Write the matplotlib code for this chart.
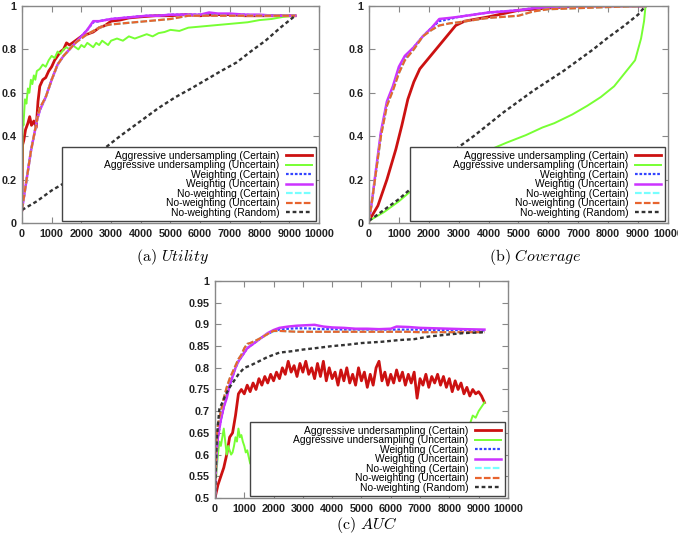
import matplotlib
matplotlib.use('Agg')
import matplotlib.pyplot as plt
from matplotlib.patches import Rectangle

plt.rcParams['font.family'] = ['Liberation Sans', 'DejaVu Sans']
plt.rcParams['mathtext.fontset'] = 'cm'

# Legend labels (same order in every panel)
labels = ['Aggressive undersampling (Certain)',
          'Aggressive undersampling (Uncertain)',
          'Weighting (Certain)',
          'Weightig (Uncertain)',
          'No-weighting (Certain)',
          'No-weighting (Uncertain)',
          'No-weighting (Random)']

x_ticks = [0, 1000, 2000, 3000, 4000, 5000, 6000, 7000, 8000, 9000, 10000]

###########
# Utility #
###########
util_agg_cert_x = [0, 20, 60, 120, 200, 260, 320, 400, 480, 540, 600, 700, 800,
                   900, 1000, 1100, 1200, 1300, 1400, 1500, 1600, 1800, 2000,
                   2200, 2400, 2600, 2800, 3000, 3300, 3600, 4000, 4500, 5000,
                   5500, 6000, 6500, 7000, 7500, 8000, 8500, 9200]
util_agg_cert_y = [0.06, 0.36, 0.38, 0.43, 0.46, 0.49, 0.45, 0.47, 0.44, 0.56,
                   0.63, 0.66, 0.67, 0.70, 0.72, 0.75, 0.77, 0.79, 0.80, 0.83,
                   0.82, 0.84, 0.86, 0.87, 0.88, 0.90, 0.91, 0.93, 0.935, 0.945,
                   0.95, 0.955, 0.955, 0.96, 0.955, 0.96, 0.96, 0.955, 0.955,
                   0.955, 0.955]

util_agg_unc_x = [0, 20, 50, 100, 150, 200, 250, 300, 350, 400, 450, 500, 600,
                  700, 800, 900, 1000, 1100, 1200, 1300, 1400, 1500, 1600, 1700,
                  1800, 1900, 2000, 2100, 2200, 2300, 2400, 2500, 2600, 2700,
                  2800, 2900, 3000, 3200, 3400, 3600, 3800, 4000, 4200, 4400,
                  4600, 4800, 5000, 5300, 5600, 6000, 6400, 6800, 7200, 7600,
                  8000, 8400, 8800, 9200]
util_agg_unc_y = [0.06, 0.48, 0.45, 0.57, 0.55, 0.62, 0.60, 0.66, 0.64, 0.68,
                  0.66, 0.70, 0.71, 0.73, 0.72, 0.75, 0.77, 0.76, 0.79, 0.78,
                  0.80, 0.81, 0.80, 0.82, 0.81, 0.80, 0.82, 0.81, 0.83, 0.82,
                  0.81, 0.83, 0.82, 0.84, 0.83, 0.82, 0.84, 0.85, 0.84, 0.86,
                  0.85, 0.86, 0.87, 0.86, 0.875, 0.88, 0.89, 0.885, 0.90, 0.905,
                  0.91, 0.915, 0.92, 0.925, 0.935, 0.94, 0.95, 0.955]

util_w_x = [0, 100, 200, 300, 400, 500, 600, 800, 1000, 1200, 1400, 1600,
            1800, 2000, 2200, 2400, 2600, 2800, 3000, 3400, 3800, 4200, 4600,
            5000, 5600, 6000, 6300, 6600, 7000, 7500, 8000, 8500, 9200]
util_w_cert_y = [0.06, 0.15, 0.24, 0.33, 0.40, 0.47, 0.52, 0.58, 0.66, 0.73,
                 0.77, 0.80, 0.83, 0.86, 0.89, 0.925, 0.93, 0.935, 0.94, 0.945,
                 0.95, 0.955, 0.955, 0.96, 0.96, 0.96, 0.965, 0.96, 0.96, 0.96,
                 0.955, 0.955, 0.955]
util_w_unc_y = [0.06, 0.15, 0.24, 0.33, 0.40, 0.47, 0.52, 0.58, 0.66, 0.73,
                0.77, 0.80, 0.83, 0.86, 0.89, 0.93, 0.93, 0.935, 0.94, 0.945,
                0.95, 0.955, 0.955, 0.96, 0.96, 0.96, 0.97, 0.965, 0.965, 0.96,
                0.96, 0.955, 0.955]
util_nw_cert_y = [0.06, 0.15, 0.24, 0.33, 0.40, 0.47, 0.53, 0.58, 0.66, 0.73,
                  0.77, 0.80, 0.83, 0.85, 0.87, 0.885, 0.90, 0.91, 0.915, 0.92,
                  0.925, 0.93, 0.935, 0.94, 0.955, 0.955, 0.955, 0.955, 0.955,
                  0.955, 0.955, 0.955, 0.955]
util_nw_unc_y = [0.06, 0.15, 0.24, 0.33, 0.40, 0.47, 0.53, 0.58, 0.66, 0.73,
                 0.77, 0.80, 0.83, 0.85, 0.87, 0.885, 0.90, 0.91, 0.915, 0.92,
                 0.925, 0.93, 0.935, 0.94, 0.955, 0.955, 0.955, 0.955, 0.955,
                 0.955, 0.955, 0.955, 0.955]

util_rand_x = [0, 500, 1000, 1500, 2000, 2650, 3300, 4000, 4600, 5170, 5700,
               6200, 6700, 7230, 7700, 8200, 8700, 9200]
util_rand_y = [0.06, 0.10, 0.15, 0.19, 0.25, 0.33, 0.40, 0.47, 0.53, 0.58,
               0.62, 0.66, 0.70, 0.74, 0.79, 0.84, 0.90, 0.955]

############
# Coverage #
############
cov_agg_cert_x = [0, 300, 600, 900, 1100, 1300, 1500, 1700, 2000, 2300, 2600,
                  2900, 3200, 4000, 5000, 6000, 7000, 8000, 9250]
cov_agg_cert_y = [0.01, 0.08, 0.20, 0.34, 0.45, 0.57, 0.65, 0.71, 0.76, 0.81,
                  0.86, 0.91, 0.93, 0.95, 0.98, 0.99, 1.0, 1.0, 1.0]

cov_agg_unc_x = [0, 500, 1000, 1340, 2000, 2700, 3400, 4000, 4600, 5250, 5800,
                 6200, 6800, 7300, 7750, 8200, 8550, 8900, 9100, 9200, 9250]
cov_agg_unc_y = [0.01, 0.05, 0.10, 0.14, 0.19, 0.24, 0.29, 0.335, 0.37, 0.405,
                 0.44, 0.46, 0.50, 0.54, 0.58, 0.63, 0.69, 0.75, 0.85, 0.93, 1.0]

cov_w_x = [0, 100, 200, 400, 600, 800, 1000, 1200, 1500, 1800, 2100, 2350,
           2700, 3000, 3500, 4000, 4500, 5000, 5500, 6000, 7000, 8000, 9250]
cov_w_cert_y = [0.01, 0.10, 0.20, 0.41, 0.55, 0.62, 0.71, 0.76, 0.81, 0.86,
                0.90, 0.93, 0.94, 0.95, 0.96, 0.97, 0.975, 0.98, 0.99, 0.995,
                1.0, 1.0, 1.0]
cov_w_unc_y = [0.01, 0.10, 0.21, 0.42, 0.56, 0.63, 0.72, 0.77, 0.81, 0.86,
               0.90, 0.94, 0.945, 0.95, 0.96, 0.97, 0.975, 0.98, 0.99, 0.995,
               1.0, 1.0, 1.0]
cov_nw_cert_y = [0.01, 0.10, 0.20, 0.40, 0.54, 0.61, 0.69, 0.75, 0.80, 0.86,
                 0.89, 0.91, 0.92, 0.925, 0.935, 0.945, 0.95, 0.955, 0.975,
                 0.985, 0.99, 0.995, 1.0]
cov_nw_unc_y = [0.01, 0.10, 0.20, 0.40, 0.54, 0.61, 0.69, 0.75, 0.80, 0.86,
                0.89, 0.91, 0.92, 0.925, 0.935, 0.945, 0.95, 0.955, 0.975,
                0.985, 0.99, 0.995, 1.0]

cov_rand_x = [0, 500, 1000, 1500, 2000, 2500, 3000, 3500, 4000, 4500, 5000,
              5500, 6000, 6500, 7000, 7500, 8000, 8500, 9000, 9250]
cov_rand_y = [0.01, 0.06, 0.11, 0.17, 0.23, 0.29, 0.35, 0.40, 0.455, 0.51,
              0.56, 0.61, 0.655, 0.70, 0.75, 0.80, 0.855, 0.905, 0.96, 1.0]

#######
# AUC #
#######
auc_agg_cert_x = [0, 100, 200, 300, 400, 500, 600, 700, 800, 900, 1000, 1100,
                  1200, 1300, 1400, 1500, 1600, 1700, 1800, 1900, 2000, 2100,
                  2200, 2300, 2400, 2500, 2600, 2700, 2800, 2900, 3000, 3100,
                  3200, 3300, 3400, 3500, 3600, 3700, 3800, 3900, 4000, 4100,
                  4200, 4300, 4400, 4500, 4600, 4700, 4800, 4900, 5000, 5100,
                  5200, 5300, 5400, 5500, 5600, 5700, 5800, 5900, 6000, 6100,
                  6200, 6300, 6400, 6500, 6600, 6700, 6800, 6900, 7000, 7100,
                  7200, 7300, 7400, 7500, 7600, 7700, 7800, 7900, 8000, 8100,
                  8200, 8300, 8400, 8500, 8600, 8700, 8800, 8900, 9000, 9100,
                  9200]
auc_agg_cert_y = [0.50, 0.53, 0.55, 0.57, 0.60, 0.64, 0.65, 0.69, 0.74, 0.75,
                  0.74, 0.76, 0.745, 0.765, 0.75, 0.775, 0.76, 0.78, 0.765,
                  0.785, 0.77, 0.79, 0.775, 0.80, 0.785, 0.815, 0.79, 0.805,
                  0.78, 0.81, 0.79, 0.815, 0.785, 0.80, 0.775, 0.81, 0.78,
                  0.815, 0.77, 0.80, 0.775, 0.79, 0.76, 0.795, 0.77, 0.80,
                  0.765, 0.785, 0.76, 0.80, 0.77, 0.79, 0.755, 0.785, 0.76,
                  0.80, 0.815, 0.77, 0.79, 0.76, 0.785, 0.765, 0.795, 0.77,
                  0.79, 0.76, 0.785, 0.765, 0.79, 0.73, 0.775, 0.76, 0.785,
                  0.755, 0.78, 0.765, 0.785, 0.76, 0.78, 0.755, 0.775, 0.745,
                  0.77, 0.75, 0.765, 0.74, 0.755, 0.735, 0.75, 0.74, 0.745,
                  0.735, 0.72]

auc_agg_unc_x = [0, 50, 100, 150, 200, 250, 300, 350, 400, 450, 500, 550, 600,
                 650, 700, 750, 800, 850, 900, 950, 1000, 1050, 1100, 1150,
                 1200, 1300, 2000, 3000, 4000, 5000, 6000, 7000, 8000, 8300,
                 8400, 8500, 8600, 8700, 8800, 8900, 9000, 9100, 9200]
auc_agg_unc_y = [0.50, 0.56, 0.60, 0.63, 0.62, 0.64, 0.66, 0.63, 0.60, 0.62,
                 0.61, 0.60, 0.605, 0.62, 0.64, 0.63, 0.66, 0.64, 0.645, 0.63,
                 0.62, 0.605, 0.61, 0.595, 0.58, 0.57, 0.58, 0.57, 0.58, 0.57,
                 0.59, 0.60, 0.62, 0.64, 0.67, 0.65, 0.64, 0.67, 0.69, 0.685,
                 0.70, 0.71, 0.72]

auc_w_x = [0, 50, 100, 200, 300, 400, 500, 600, 700, 800, 900, 1000, 1100,
           1200, 1400, 1600, 1800, 2000, 2200, 2500, 2800, 3100, 3400, 3700,
           4000, 4400, 4800, 5200, 5600, 6000, 6200, 6600, 7000, 7500, 8000,
           8500, 9200]
auc_w_cert_y = [0.50, 0.60, 0.64, 0.68, 0.71, 0.735, 0.76, 0.78, 0.80, 0.815,
                0.825, 0.835, 0.845, 0.85, 0.86, 0.87, 0.878, 0.885, 0.888,
                0.89, 0.891, 0.891, 0.89, 0.889, 0.889, 0.888, 0.888, 0.888,
                0.888, 0.888, 0.888, 0.888, 0.888, 0.887, 0.887, 0.887, 0.886]
auc_w_unc_y = [0.50, 0.60, 0.64, 0.68, 0.71, 0.73, 0.76, 0.78, 0.80, 0.815,
               0.825, 0.835, 0.845, 0.85, 0.86, 0.87, 0.88, 0.887, 0.892,
               0.895, 0.897, 0.898, 0.899, 0.895, 0.893, 0.892, 0.89, 0.89,
               0.889, 0.89, 0.895, 0.894, 0.892, 0.891, 0.89, 0.889, 0.888]
auc_nw_cert_y = [0.50, 0.64, 0.67, 0.70, 0.73, 0.755, 0.775, 0.79, 0.805, 0.82,
                 0.83, 0.845, 0.855, 0.857, 0.863, 0.87, 0.878, 0.884, 0.885,
                 0.884, 0.883, 0.883, 0.883, 0.883, 0.883, 0.883, 0.883, 0.883,
                 0.883, 0.883, 0.883, 0.883, 0.882, 0.882, 0.882, 0.882, 0.882]
auc_nw_unc_y = [0.50, 0.64, 0.67, 0.70, 0.73, 0.755, 0.775, 0.79, 0.805, 0.82,
                0.83, 0.845, 0.855, 0.857, 0.863, 0.87, 0.878, 0.885, 0.885,
                0.884, 0.883, 0.883, 0.883, 0.883, 0.883, 0.883, 0.883, 0.883,
                0.883, 0.883, 0.883, 0.883, 0.882, 0.882, 0.882, 0.882, 0.882]

auc_rand_x = [0, 50, 100, 150, 250, 380, 500, 650, 800, 1000, 1200, 1500,
              1800, 2200, 2600, 3000, 3400, 4000, 4500, 5000, 5700, 6300, 6800,
              7300, 8000, 8500, 9200]
auc_rand_y = [0.50, 0.62, 0.67, 0.705, 0.72, 0.74, 0.755, 0.77, 0.785, 0.80,
              0.805, 0.815, 0.825, 0.835, 0.838, 0.842, 0.845, 0.85, 0.853,
              0.857, 0.86, 0.864, 0.866, 0.872, 0.877, 0.88, 0.882]

# gnuplot-like line styles, one per legend entry
styles = [dict(color='#cc1111', lw=2.0, ls='-'),
          dict(color='#77ff33', lw=1.4, ls='-'),
          dict(color='#3344ff', lw=1.6, ls=(0, (1.2, 0.8))),
          dict(color='#cc33ff', lw=1.8, ls='-'),
          dict(color='#77ffff', lw=1.6, ls=(0, (3, 1))),
          dict(color='#e8642e', lw=1.6, ls=(0, (3, 1))),
          dict(color='#333333', lw=1.7, ls=(0, (1.6, 1.2)))]

fig = plt.figure(figsize=(6.78, 5.34), dpi=100)
ax_a = fig.add_axes([0.0324, 0.5824, 0.438, 0.4064])
ax_b = fig.add_axes([0.5442, 0.5824, 0.441, 0.4064])
ax_c = fig.add_axes([0.3171, 0.0674, 0.432, 0.4064])

panels = [
    (ax_a,
     [(util_agg_cert_x, util_agg_cert_y), (util_agg_unc_x, util_agg_unc_y),
      (util_w_x, util_w_cert_y), (util_w_x, util_w_unc_y),
      (util_w_x, util_nw_cert_y), (util_w_x, util_nw_unc_y),
      (util_rand_x, util_rand_y)],
     (0, 1), [0, 0.2, 0.4, 0.6, 0.8, 1], ['0', '0.2', '0.4', '0.6', '0.8', '1'],
     0.135),
    (ax_b,
     [(cov_agg_cert_x, cov_agg_cert_y), (cov_agg_unc_x, cov_agg_unc_y),
      (cov_w_x, cov_w_cert_y), (cov_w_x, cov_w_unc_y),
      (cov_w_x, cov_nw_cert_y), (cov_w_x, cov_nw_unc_y),
      (cov_rand_x, cov_rand_y)],
     (0, 1), [0, 0.2, 0.4, 0.6, 0.8, 1], ['0', '0.2', '0.4', '0.6', '0.8', '1'],
     0.137),
    (ax_c,
     [(auc_agg_cert_x, auc_agg_cert_y), (auc_agg_unc_x, auc_agg_unc_y),
      (auc_w_x, auc_w_cert_y), (auc_w_x, auc_w_unc_y),
      (auc_w_x, auc_nw_cert_y), (auc_w_x, auc_nw_unc_y),
      (auc_rand_x, auc_rand_y)],
     (0.5, 1), [0.5, 0.55, 0.6, 0.65, 0.7, 0.75, 0.8, 0.85, 0.9, 0.95, 1],
     ['0.5', '0.55', '0.6', '0.65', '0.7', '0.75', '0.8', '0.85', '0.9',
      '0.95', '1'],
     0.12),
]

legends = []
for ax, series, ylim, yticks, yticklabels, box_left in panels:
    for (x, y), lab, st in zip(series, labels, styles):
        ax.plot(x, y, label=lab, **st)
    ax.set_xlim(0, 10000)
    ax.set_ylim(*ylim)
    ax.set_xticks(x_ticks)
    ax.set_xticklabels([str(t) for t in x_ticks])
    ax.set_yticks(yticks)
    ax.set_yticklabels(yticklabels)
    ax.tick_params(direction='in', length=4, width=0.8, color='#888888',
                   top=True, right=True, labelsize=7.8, pad=4,
                   labelcolor='#222222')
    for lab in ax.get_xticklabels() + ax.get_yticklabels():
        lab.set_fontweight('bold')
    for sp in ax.spines.values():
        sp.set_color('#888888')
        sp.set_linewidth(1.0)
    leg = ax.legend(loc='lower right', bbox_to_anchor=(0.99, 0.008),
                    borderaxespad=0, borderpad=0.35, frameon=False,
                    markerfirst=False, fontsize=7.4, handlelength=2.6,
                    handletextpad=0.6, labelspacing=-0.05)
    legends.append((ax, leg, box_left))

# Draw the gnuplot-style key box, which is wider than the key content
fig.canvas.draw()
for ax, leg, box_left in legends:
    bb = leg.get_window_extent().transformed(ax.transAxes.inverted())
    ax.add_patch(Rectangle((box_left, bb.y0), bb.x1 - box_left, bb.height,
                           transform=ax.transAxes, facecolor='white',
                           edgecolor='#444444', lw=1.0, zorder=4.9))

fig.text(0.254, 0.519, r'$\mathrm{(a)}\ \mathit{Utility}$', ha='center',
         va='center', fontsize=11.5)
fig.text(0.789, 0.519, r'$\mathrm{(b)}\ \mathit{Coverage}$', ha='center',
         va='center', fontsize=11.5)
fig.text(0.541, 0.017, r'$\mathrm{(c)}\ \mathit{AUC}$', ha='center',
         va='center', fontsize=11.5)

fig.savefig('out.png', dpi=100)
